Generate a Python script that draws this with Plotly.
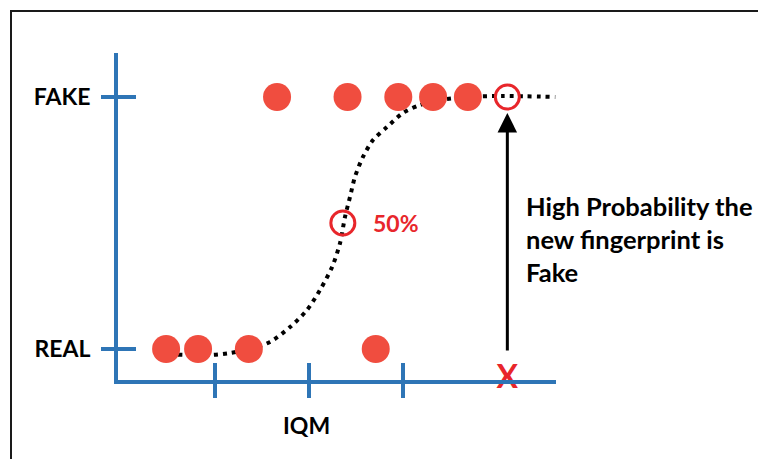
import plotly.graph_objects as go

# ---- data (IQM on x, class probability on y: REAL=0, FAKE=1) ----
fake_x = [1.66, 2.41, 2.95, 3.32, 3.69]
fake_y = [1, 1, 1, 1, 1]
real_x = [0.48, 0.82, 1.36, 2.71]
real_y = [0, 0, 0, 0]
new_x = [4.11]
new_y = [1.0]
mid_x = [2.36]
mid_y = [0.5]

curve_x = [0.415, 0.947, 1.16, 1.372, 1.585, 1.798, 1.979, 2.117, 2.245, 2.33,
           2.383, 2.436, 2.489, 2.574, 2.681, 2.83, 3.0, 3.18, 3.394, 3.68, 4.064, 4.62]
curve_y = [-0.02, -0.024, -0.016, 0.0, 0.028, 0.087, 0.155, 0.234, 0.325, 0.42,
           0.524, 0.603, 0.683, 0.762, 0.829, 0.881, 0.937, 0.968, 0.988, 1.0, 1.004, 1.0]

x_ticks = [1, 2, 3]
y_ticks = [0, 1]
y_labels = ["REAL", "FAKE"]

BLUE = "#2E75B6"
RED_FILL = "#F04D3F"
RED = "#E8262B"
FONT = "Lato"

W, H = 758, 459
L, T = 118, 53
PW, PH = 438, 327
R, B = W - L - PW, H - T - PH

def px_to_paper_x(px):
    return (px - L) / PW

def px_to_paper_y(py):
    return (T + PH - py) / PH

fig = go.Figure()

# fitted curve
fig.add_trace(go.Scatter(x=curve_x, y=curve_y, mode="lines",
                         line=dict(color="black", width=4, dash="4px,5px", shape="spline", smoothing=0.8),
                         hoverinfo="skip", showlegend=False))
# observed points
fig.add_trace(go.Scatter(x=fake_x + real_x, y=fake_y + real_y, mode="markers",
                         marker=dict(size=28, color=RED_FILL, line=dict(width=0)),
                         showlegend=False, cliponaxis=False))
# new fingerprint
fig.add_trace(go.Scatter(x=new_x, y=new_y, mode="markers",
                         marker=dict(size=24, symbol="circle-open", color=RED, line=dict(width=3, color=RED)),
                         showlegend=False, cliponaxis=False))
# 50% point
fig.add_trace(go.Scatter(x=mid_x, y=mid_y, mode="markers",
                         marker=dict(size=24, symbol="circle-open", color=RED, line=dict(width=3, color=RED)),
                         showlegend=False, cliponaxis=False))
# X on the axis
fig.add_trace(go.Scatter(x=new_x, y=[-0.123], mode="text", text=["X"],
                         textposition="middle center",
                         textfont=dict(family=FONT, size=32, color=RED, weight="bold"),
                         showlegend=False, cliponaxis=False))

shapes = []
# cross ticks on x axis
for t in x_ticks:
    shapes.append(dict(type="line", xref="x", yref="paper", x0=t, x1=t,
                       y0=px_to_paper_y(363), y1=px_to_paper_y(398),
                       line=dict(color=BLUE, width=4)))
# cross ticks on y axis
for t in y_ticks:
    shapes.append(dict(type="line", xref="paper", yref="y", y0=t, y1=t,
                       x0=px_to_paper_x(101), x1=px_to_paper_x(136),
                       line=dict(color=BLUE, width=4)))
# frame (left and top edges only are visible)
shapes.append(dict(type="line", xref="paper", yref="paper",
                   x0=px_to_paper_x(11), x1=px_to_paper_x(11),
                   y0=px_to_paper_y(459), y1=px_to_paper_y(10),
                   line=dict(color="#1a1a1a", width=2), layer="below"))
shapes.append(dict(type="line", xref="paper", yref="paper",
                   x0=px_to_paper_x(10), x1=px_to_paper_x(758),
                   y0=px_to_paper_y(11), y1=px_to_paper_y(11),
                   line=dict(color="#1a1a1a", width=2), layer="below"))

annotations = [
    dict(x=new_x[0], y=0.937, ax=new_x[0], ay=-0.012, xref="x", yref="y", axref="x", ayref="y",
         text="", showarrow=True, arrowhead=2, arrowsize=1.3, arrowwidth=3, arrowcolor="black", standoff=0),
    dict(x=mid_x[0], y=mid_y[0], xref="x", yref="y", xshift=28,
         text="50%", showarrow=False, xanchor="left", yanchor="middle",
         font=dict(family=FONT, size=23, color=RED, weight="bold")),
    dict(x=px_to_paper_x(524), y=px_to_paper_y(239), xref="paper", yref="paper",
         text="High Probability the<br>new fingerprint is<br>Fake", showarrow=False,
         xanchor="left", yanchor="middle", align="left",
         font=dict(family=FONT, size=25.5, color="black", weight="bold")),
    dict(x=px_to_paper_x(306), y=px_to_paper_y(425), xref="paper", yref="paper",
         text="IQM", showarrow=False, xanchor="center", yanchor="middle",
         font=dict(family=FONT, size=23, color="black", weight="bold")),
]

fig.update_layout(
    width=W, height=H, margin=dict(l=L, r=R, t=T, b=B, pad=0),
    paper_bgcolor="white", plot_bgcolor="white",
    shapes=shapes, annotations=annotations,
    xaxis=dict(range=[-0.0319, 4.6277], showgrid=False, zeroline=False,
               showline=True, linecolor=BLUE, linewidth=4,
               tickvals=x_ticks, ticks="", showticklabels=False, fixedrange=True),
    yaxis=dict(range=[-0.123, 1.1746], showgrid=False, zeroline=False,
               showline=True, linecolor=BLUE, linewidth=4,
               tickvals=y_ticks, ticktext=y_labels, ticks="", ticklabelstandoff=19,
               tickfont=dict(family=FONT, size=23, color="black", weight="bold"), fixedrange=True),
)

fig.write_html("out.html", config={"displayModeBar": False},
               post_script="document.body.style.margin='0';document.body.style.overflow='hidden';"
                           "document.documentElement.style.overflow='hidden';")
